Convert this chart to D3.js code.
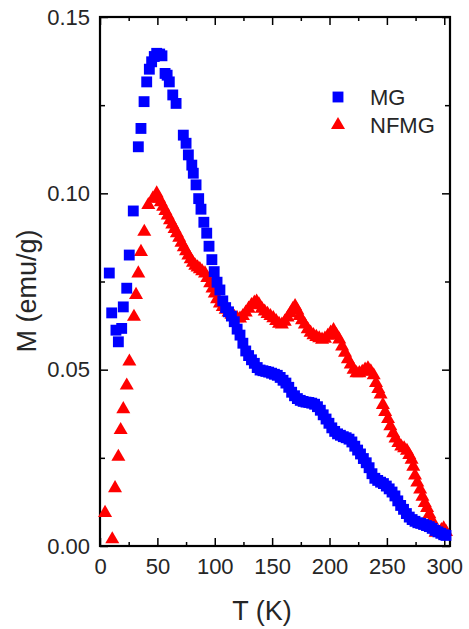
<!DOCTYPE html>
<html>
<head>
<meta charset="utf-8">
<script src="https://cdn.jsdelivr.net/npm/d3@7"></script>
<style>
  body { margin: 0; background: #fff; }
  svg { display: block; }
  text { font-family: 'Liberation Sans', Arial, sans-serif; fill: #262626; }
  .tick-label { font-size: 22px; }
  .axis-label { font-size: 27px; }
  .legend-text { font-size: 22px; }
</style>
</head>
<body>
<svg width="469" height="629"></svg>
<script>
const xAxisLabelText = 'T (K)';
const yAxisLabelText = 'M (emu/g)';

// tick values
const xMajorTicks = [0, 50, 100, 150, 200, 250, 300];
const xMinorTicks = [25, 75, 125, 175, 225, 275];
const yMajorTicks = [0, 0.05, 0.10, 0.15];
const yMinorTicks = [0.025, 0.075, 0.125];

// MG (squares)
const mgT = [8.1, 10.2, 13.9, 16.0, 18.9, 20.3, 23.3, 25.5, 29.0, 33.4, 35.7, 38.4, 40.7, 43.0, 45.0, 47.3,
  49.4, 52.0, 54.0, 56.7, 58.5, 60.4, 63.4, 66.3, 72.6, 75.0, 77.0, 80.0, 81.3, 83.7,
  86, 88, 90.5, 93, 95, 97.5, 99.5, 102, 104.5, 107, 109.5, 112, 114.5, 117, 119.5, 122, 124.5,
  127, 129.5, 132, 134.5, 137, 139.5, 142, 144.5, 147, 149.5, 152, 154.5, 157, 159.5, 162, 164.5,
  167, 169.5, 172, 174.5, 177, 179.5, 182, 184.5, 187, 189.5, 192, 194.5, 197, 199.5, 202, 204.5,
  207, 209.5, 212, 214.5, 217, 219.5, 222, 224.5, 227, 229.5, 232, 234.5, 237, 239.5, 242, 244.5,
  247, 249.5, 252, 254.5, 257, 259.5, 262, 264.5, 267, 269.5, 272, 274.5, 277, 279.5, 282, 284.5,
  287, 289.5, 292, 294.5, 297, 299.5, 301.5];
const mgM = [0.0774, 0.0661, 0.0612, 0.0579, 0.0617, 0.0678, 0.0731, 0.0825, 0.0950, 0.1132, 0.1184, 0.1260, 0.1316, 0.1352, 0.1373, 0.1388,
  0.1397, 0.1395, 0.1390, 0.1340, 0.1335, 0.1316, 0.1279, 0.1255, 0.1165, 0.1142, 0.1109, 0.1080, 0.1057, 0.1024,
  0.0985, 0.0955, 0.0918, 0.0887, 0.0850, 0.0812, 0.0778, 0.0748, 0.0726, 0.0695, 0.0676, 0.0664, 0.0652, 0.0636, 0.0615, 0.0598, 0.0575,
  0.0553, 0.0540, 0.0528, 0.0518, 0.0506, 0.0499, 0.0497, 0.0495, 0.0493, 0.0490, 0.0487, 0.0484, 0.0478, 0.0470, 0.0462, 0.0450,
  0.0436, 0.0426, 0.0418, 0.0413, 0.0410, 0.0408, 0.0407, 0.0405, 0.0402, 0.0395, 0.0385, 0.0372, 0.0360, 0.0348, 0.0335, 0.0325,
  0.0318, 0.0314, 0.0310, 0.0307, 0.0303, 0.0295, 0.0283, 0.0272, 0.0261, 0.0248, 0.0236, 0.0222, 0.0205, 0.0192, 0.0186, 0.0181,
  0.0177, 0.0170, 0.0162, 0.0153, 0.0142, 0.0128, 0.0115, 0.0104, 0.0092, 0.0082, 0.0075, 0.0070, 0.0066, 0.0064, 0.0061, 0.0058,
  0.0055, 0.0050, 0.0044, 0.0040, 0.0036, 0.0032, 0.0030];

// NFMG (triangles)
const nfT = [4.4, 10.7, 13.1, 16.0, 18.0, 20.3, 23.3, 25.6, 29.6, 31.4, 33.4, 35.7, 38.6, 42.1, 46.0, 49.4, 51.5,
  53, 55, 57, 59, 61, 63, 65, 67, 69, 71, 73, 75, 77, 79, 81, 83, 85, 87, 89, 91.5, 93.5, 96, 98, 100,
  102, 104.5, 107, 109.5, 112, 114.5, 117, 119.5, 122, 124.5, 127, 129.5, 132, 134.5, 136.5, 138.5, 141, 143.5,
  146, 148.5, 151, 153.5, 156, 158.5, 161, 163.5, 166, 168, 170, 172, 174, 176, 178.5, 181, 183.5, 186, 188.5,
  191, 193.5, 196, 198.5, 201, 203.5, 206, 208.5, 211, 213.5, 216, 218.5, 221, 223.5, 226, 228.5, 231, 233.5,
  236, 238.5, 240.5, 242.5, 244.5, 246.5, 248.5, 251, 253, 255.5, 257.5, 260, 262.5, 265, 267.5, 269.5, 271.5,
  273, 274.5, 276.5, 279, 281, 283, 285, 287, 289, 291, 292.5, 295, 297.5, 299.5, 301.5];
const nfM = [0.0094, 0.0019, 0.0164, 0.0253, 0.0329, 0.0388, 0.0455, 0.0523, 0.0650, 0.0712, 0.0773, 0.0834, 0.0891, 0.0967, 0.0985, 0.1000, 0.0985,
  0.0975, 0.0962, 0.0950, 0.0937, 0.0924, 0.0912, 0.0899, 0.0887, 0.0874, 0.0860, 0.0847, 0.0836, 0.0824, 0.0813, 0.0803, 0.0795, 0.0790, 0.0785, 0.0779, 0.0773, 0.0760, 0.0745, 0.0730, 0.0716,
  0.0700, 0.0688, 0.0678, 0.0670, 0.0662, 0.0656, 0.0650, 0.0646, 0.0645, 0.0652, 0.0662, 0.0673, 0.0683, 0.0690, 0.0693, 0.0685, 0.0673, 0.0665,
  0.0658, 0.0652, 0.0646, 0.0638, 0.0630, 0.0628, 0.0636, 0.0648, 0.0660, 0.0672, 0.0680, 0.0668, 0.0652, 0.0640, 0.0628, 0.0615, 0.0605, 0.0598, 0.0593,
  0.0589, 0.0585, 0.0588, 0.0596, 0.0605, 0.0612, 0.0598, 0.0586, 0.0566, 0.0548, 0.0530, 0.0515, 0.0500, 0.0490, 0.0490, 0.0494, 0.0500, 0.0504,
  0.0495, 0.0484, 0.0462, 0.0445, 0.0430, 0.0400, 0.0380, 0.0360, 0.0340, 0.0320, 0.0305, 0.0292, 0.0282, 0.0277, 0.0270, 0.0258, 0.0245,
  0.0225, 0.0200, 0.0180, 0.0160, 0.0140, 0.0122, 0.0108, 0.0090, 0.0074, 0.0055, 0.0038, 0.0040, 0.0045, 0.0050, 0.0040];

const seriesNames = ['MG', 'NFMG'];
const seriesColors = ['#0000ff', '#ff0000'];

const svg = d3.select('svg');
const width = +svg.attr('width');
const height = +svg.attr('height');

const render = () => {
  const margin = { top: 17, right: 19, bottom: 83, left: 100 };
  const innerWidth = width - margin.left - margin.right;
  const innerHeight = height - margin.top - margin.bottom;

  const xScale = d3.scaleLinear().domain([0, 305]).range([0, innerWidth]);
  const yScale = d3.scaleLinear().domain([0, 0.15]).range([innerHeight, 0]);

  const g = svg.append('g')
    .attr('transform', `translate(${margin.left},${margin.top})`);

  // ticks, all pointing inward
  const addAxis = (axis, transform, labels) => {
    const ag = g.append('g').attr('transform', transform).call(axis);
    ag.select('.domain').remove();
    ag.selectAll('line').attr('stroke', '#000').attr('stroke-width', 1.5);
    if (labels) ag.selectAll('text').attr('class', 'tick-label').attr('font-size', null).attr('font-family', null);
    else ag.selectAll('text').remove();
    return ag;
  };

  addAxis(d3.axisBottom(xScale).tickValues(xMajorTicks).tickSize(-8).tickPadding(12),
    `translate(0,${innerHeight})`, true);
  addAxis(d3.axisBottom(xScale).tickValues(xMinorTicks).tickSize(-4), `translate(0,${innerHeight})`, false);
  addAxis(d3.axisTop(xScale).tickValues(xMajorTicks).tickSize(-8), 'translate(0,0)', false);
  addAxis(d3.axisTop(xScale).tickValues(xMinorTicks).tickSize(-4), 'translate(0,0)', false);

  addAxis(d3.axisLeft(yScale).tickValues(yMajorTicks).tickSize(-8).tickPadding(10).tickFormat(d3.format('.2f')),
    'translate(0,0)', true);
  addAxis(d3.axisLeft(yScale).tickValues(yMinorTicks).tickSize(-5), 'translate(0,0)', false);
  addAxis(d3.axisRight(yScale).tickValues(yMajorTicks).tickSize(-8), `translate(${innerWidth},0)`, false);
  addAxis(d3.axisRight(yScale).tickValues(yMinorTicks).tickSize(-5), `translate(${innerWidth},0)`, false);

  g.append('rect')
    .attr('width', innerWidth)
    .attr('height', innerHeight)
    .attr('fill', 'none')
    .attr('stroke', '#000')
    .attr('stroke-width', 2.2);

  const triangle = d3.symbol().type(d3.symbolTriangle).size(85);
  const square = d3.symbol().type(d3.symbolSquare).size(118);

  const nfData = nfT.map((t, i) => ({ t, m: nfM[i] }));
  const mgData = mgT.map((t, i) => ({ t, m: mgM[i] }));

  g.append('g').selectAll('path').data(nfData)
    .enter().append('path')
      .attr('d', triangle)
      .attr('transform', d => `translate(${xScale(d.t)},${yScale(d.m)})`)
      .attr('fill', seriesColors[1]);

  g.append('g').selectAll('path').data(mgData)
    .enter().append('path')
      .attr('d', square)
      .attr('transform', d => `translate(${xScale(d.t)},${yScale(d.m)})`)
      .attr('fill', seriesColors[0]);

  // legend
  const legend = svg.append('g').attr('transform', 'translate(338,97)');
  const symbols = [square, triangle];
  seriesNames.forEach((name, i) => {
    const row = legend.append('g').attr('transform', `translate(0,${i * 28})`);
    row.append('path').attr('d', symbols[i]).attr('fill', seriesColors[i]);
    row.append('text')
      .attr('class', 'legend-text')
      .attr('x', 32)
      .attr('y', 8)
      .text(name);
  });

  // axis titles
  svg.append('text')
    .attr('class', 'axis-label')
    .attr('text-anchor', 'middle')
    .attr('transform', `translate(36,291) rotate(-90)`)
    .text(yAxisLabelText);

  svg.append('text')
    .attr('class', 'axis-label')
    .attr('text-anchor', 'middle')
    .attr('x', 262)
    .attr('y', 620)
    .text(xAxisLabelText);
};

render();
</script>
</body>
</html>
